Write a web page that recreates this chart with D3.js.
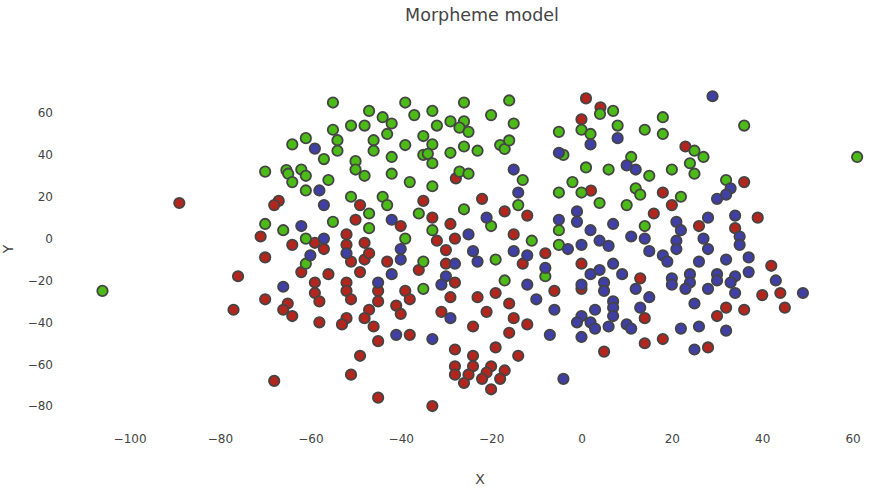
<!DOCTYPE html>
<html>
<head>
<meta charset="utf-8">
<script src="https://cdn.jsdelivr.net/npm/d3@7"></script>
<style>
  html, body { margin: 0; padding: 0; background: #fff; }
  svg { display: block; font-family: "DejaVu Sans", sans-serif; }
</style>
</head>
<body>
<svg id="chart" width="889" height="492"></svg>
<script>
// Embedding coordinates for the three morpheme groups
const greenPoints = [
  [-106,-25],
  [-55,65],[-47,61],[-39,65],[-44,58],[-42,55],[-51,54],[-48,54],[-55,52],[-43,50],[-61,48],[-54,47],[-46,47],[-64,45],[-54,42],[-46,42],[-39,44.7],[-57,38],[-42,39],[-50,37],[-70,32],[-65.3,32.7],[-64.9,31],[-62,33],[-61,30],[-50,33],[-48,30],[-42,31],[-64,27],[-56,28],[-61,23],[-38,27],[-51,20],[-44,20],[-43,16],[-47,12],[-70,7],[-66,4],[-55,8],[-47,5],[-61,0],[-39,0],
  [-26,65],[-16,66],[-37,59],[-33,61],[-20,59],[-32,54],[-29,56],[-26,56],[-27,53],[-25,51],[-15,55],[-5,51],[-35,49],[-33,45],[-35,40],[-34,40.5],[-33,36],[-29,41],[-26,44],[-23,42],[-18,44.7],[-17,42.8],[-16,46.9],[-13,28],[-27,32],[-25,31],[-33,25],[-14,16],[-5,22],[-36,12],[-26,14],[-20,6],[-33,4],[-11,-1],[-5,4],[-5,-3],[-4,40],
  [4.1,59.6],[7,61],[0,52],[2,50],[8,54],[14,52],[18,58],[18,50],[1,34],[6,33],[11,39],[15,30],[20,33],[25,42],[27,39],[24,36],[25,31],[-2,27],[0,22],[12,24],[13,21],[4,17],[10,16],[22,20],[14,6],
  [36,54],[61,39],[32,28],
  [-61,-12],
  [-19,-10],[-8,-18],[-35,-11],[-35,-24],[-17,-20]
];

const redPoints = [
  [-89,17],[-71,1],[-76,-18],[-77,-34],[-70,-9],[-70,-29],
  [-67,18],[-68,16],[-49,16],[-50,9],[-40,6],[-59,-2],[-57,-5],[-64,-3],[-52,2],[-52,-3],[-48,-2],
  [-27.8,28.8],[-35,18],[-22,19],[-33,10],[-17,13],[-12,11],[-29,7],[-15,2],[-32,-1],[-28,0],
  [1,67],[4.2,62.7],[0,57],[23,44],[2.1,22.9],[18,22],[20,16],[16,12],[26,6],
  [36,27],[39,10],[34,5],
  [-62,-16],[-56,-17],[-51,-11],[-48,-10],[-47,-7],[-49,-16],[-43,-11],[-59,-21],[-59,-26],[-58,-30],[-52,-21],[-52,-25],[-51,-29],[-45,-25],[-45,-30],[-39,-25],[-38,-29],[-65,-31],[-66,-34],[-64,-37],[-58,-40],[-52,-38],[-53,-41],[-47,-34],[-48,-38],[-46,-42],[-41,-32],[-40,-36],[-45,-49],[-38,-46],[-49,-56],[-51,-65],[-68,-68],[-45,-76],
  [-30,-5.5],[-13,-12],[-8,-7],[-36,-15],[-30,-12],[-28,-21],[-29,-28],[-23,-28],[-19,-26],[-16,-31],[-31,-35],[-21,-35],[-15,-38],[-12,-41],[-24,-42],[-16,-45],[-28,-53],[-19,-52],[-14,-56],[-24,-56],[-28,-61],[-28,-65],[-24,-61],[-25,-65],[-26,-69],[-20,-61],[-21,-64],[-22,-67],[-17,-63],[-18,-67],[-20,-72],[-33,-80],
  [0,-12],[13,-19],[0,-24],[-6,-25],[14,-38],[5,-54],[14,-50],[18,-48],[28,-52],
  [42,-13],[40,-27],[44,-26],[32,-33],[30,-37],[36,-34],[45,-33]
];

const bluePoints = [
  [-59,43],[-58,23],[-57,16],[-62,6],[-42,9],[-57,0],
  [-15,33],[-14,22],[-21,10],[-25,2],
  [8,48],[2,45],[29,68],[-5,41],[10,35],[12,33],[-1,13],[-5,9],[-1,8],[7,7],[2,4],[21,8],[22,4],[28,10],[27,0],[0,-3],[-3,-5],[4,-1],[6,-3.5],[11,1],[14,0],[21,-1],[21,-5],
  [33,24],[32,21],[30,19],[34,11],[35,1],
  [-60,-8],[-52,-7],[-40,-5],[-40,-10],[-42,-17],[-66,-23],[-45,-21],[-41,-46],
  [-24,-6],[-23,-11],[-15,-6],[-12,-8],[-8,-14],[-28,-12],[-30,-18],[-31,-22],[-12,-22],[-10,-29],[-29,-38],[-33,-48],
  [15,-6],[18,-8],[19,-11],[26,-11],[28,-5],[2,-17],[4,-15],[7,-12],[9,-17],[12,-24],[20,-19],[20,-22],[24,-17],[24,-21],[23,-24],[28,-24],[0,-22],[5,-21],[5,-25],[15,-28],[25,-31],[-6,-34],[7,-30],[7,-33],[7,-37],[3,-34],[13,-33],[0,-37],[-1,-40],[2,-40],[3,-43],[6,-42],[10,-41],[11,-43],[-7,-46],[0,-47],[22,-43],[26,-42],[25,-53],[-4,-67],
  [35,-3],[32,-10],[37,-9],[37,-16],[30,-17],[30,-20],[34,-18],[33,-21],[34,-26],[43,-20],[49,-26],[32,-44]
];

const xTicks = [-100, -80, -60, -40, -20, 0, 20, 40, 60];
const yTicks = [-80, -60, -40, -20, 0, 20, 40, 60];

const titleText = "Morpheme model";
const xLabel = "X";
const yLabel = "Y";

// Drawing order: first group at the bottom, last on top
const groups = [
  { points: redPoints,   fill: "#b3261e" },
  { points: greenPoints, fill: "#4cbb17" },
  { points: bluePoints,  fill: "#3f3fa6" }
];

const svg = d3.select("#chart");
const textColor = "#444";

const x = d3.scaleLinear().domain([-110, 64]).range([84.4, 870.7]);
const y = d3.scaleLinear().domain([-85, 72]).range([416.5, 87.9]);

const minusFmt = d => (d < 0 ? "\u2212" + Math.abs(d) : String(d));

// X axis: tick labels only, no domain line or tick marks
const xAxis = d3.axisBottom(x).tickValues(xTicks).tickFormat(minusFmt).tickSize(0).tickPadding(0);
const gx = svg.append("g").attr("transform", "translate(0,434)").call(xAxis);
gx.select(".domain").remove();
gx.selectAll("text")
  .attr("fill", textColor)
  .style("font-family", "'DejaVu Sans', sans-serif")
  .style("font-size", "12px");

// Y axis
const yAxis = d3.axisLeft(y).tickValues(yTicks).tickFormat(minusFmt).tickSize(0).tickPadding(0);
const gy = svg.append("g").attr("transform", "translate(53,0)").call(yAxis);
gy.select(".domain").remove();
gy.selectAll("text")
  .attr("fill", textColor)
  .style("font-family", "'DejaVu Sans', sans-serif")
  .style("font-size", "12px");

// Markers
groups.forEach(g => {
  svg.append("g")
    .selectAll("circle")
    .data(g.points)
    .join("circle")
    .attr("cx", d => x(d[0]))
    .attr("cy", d => y(d[1]))
    .attr("r", 5.2)
    .attr("fill", g.fill)
    .attr("stroke", "#444")
    .attr("stroke-width", 1.8);
});

// Title and axis titles
svg.append("text")
  .attr("x", 482).attr("y", 21)
  .attr("text-anchor", "middle")
  .attr("fill", textColor)
  .style("font-size", "17.5px")
  .text(titleText);

svg.append("text")
  .attr("x", 480).attr("y", 484)
  .attr("text-anchor", "middle")
  .attr("fill", textColor)
  .style("font-size", "14px")
  .text(xLabel);

svg.append("text")
  .attr("transform", "translate(13,249) rotate(-90)")
  .attr("text-anchor", "middle")
  .attr("fill", textColor)
  .style("font-size", "14px")
  .text(yLabel);
</script>
</body>
</html>
